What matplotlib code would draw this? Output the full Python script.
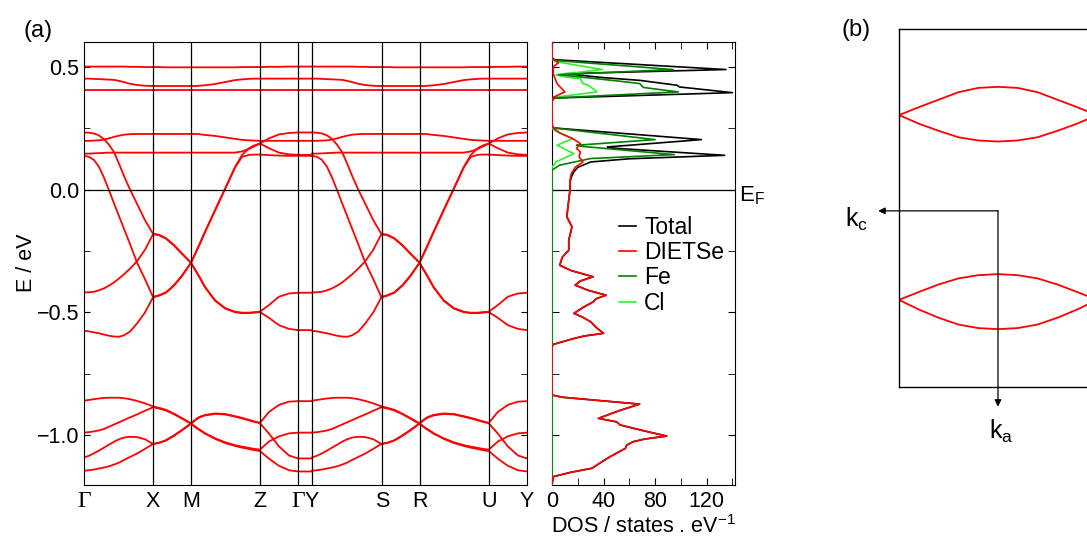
import matplotlib
matplotlib.use('Agg')
import matplotlib.pyplot as plt
from matplotlib.ticker import MultipleLocator

plt.rcParams['font.family'] = 'Liberation Sans'
plt.rcParams['font.size'] = 15.5
plt.rcParams['mathtext.fontset'] = 'custom'
plt.rcParams['mathtext.rm'] = 'Liberation Sans'
plt.rcParams['mathtext.it'] = 'Liberation Sans'

# high symmetry points along the k path
kpt_pos = [0, 69, 107, 176, 214, 228, 298, 336, 405, 443]
kpt_labels = ['Γ', 'X', 'M', 'Z', 'Γ', 'Y', 'S', 'R', 'U', 'Y']

# k grid for Γ-X-M-Z-Γ; the Y-S-R-U-Y half shows the same bands
k_half = [0, 5, 10, 15, 20, 25, 30, 35,
          40, 46, 53, 61, 69, 75, 82, 90,
          98, 107, 111, 115, 121, 131, 141, 151,
          158, 165, 170, 176, 185, 195, 205, 214]

band_u1 = [0.500, 0.500, 0.500, 0.500, 0.500, 0.500, 0.500, 0.500,
           0.500, 0.499, 0.499, 0.498, 0.498, 0.498, 0.497, 0.497,
           0.497, 0.497, 0.497, 0.497, 0.497, 0.497, 0.497, 0.497,
           0.498, 0.498, 0.498, 0.498, 0.499, 0.499, 0.500, 0.500]
band_u2 = [0.451, 0.451, 0.450, 0.449, 0.448, 0.447, 0.446, 0.442,
           0.437, 0.430, 0.425, 0.422, 0.421, 0.421, 0.421, 0.421,
           0.421, 0.421, 0.421, 0.422, 0.424, 0.429, 0.437, 0.445,
           0.448, 0.450, 0.451, 0.451, 0.451, 0.451, 0.451, 0.451]
band_u3 = [0.404] * 32
band_m1 = [0.198, 0.198, 0.199, 0.200, 0.203, 0.208, 0.214, 0.219,
           0.223, 0.225, 0.226, 0.226, 0.226, 0.226, 0.226, 0.226,
           0.226, 0.226, 0.226, 0.225, 0.222, 0.218, 0.212, 0.206,
           0.202, 0.200, 0.199, 0.198, 0.198, 0.198, 0.198, 0.198]
band_m2 = [0.146, 0.146, 0.147, 0.148, 0.149, 0.150, 0.150, 0.150,
           0.150, 0.150, 0.150, 0.150, 0.150, 0.150, 0.150, 0.150,
           0.150, 0.150, 0.150, 0.150, 0.150, 0.150, 0.150, 0.150,
           0.155, 0.165, 0.175, 0.187, 0.168, 0.150, 0.143, 0.141]
band_p = [0.232, 0.231, 0.228, 0.220, 0.205, 0.182, 0.152, 0.105,
          0.055, 0.000, -0.058, -0.125, -0.180, -0.184, -0.198, -0.226,
          -0.260, -0.298, -0.325, -0.352, -0.396, -0.450, -0.482, -0.497,
          -0.501, -0.501, -0.499, -0.497, -0.470, -0.436, -0.423, -0.420]
band_r = [-0.419, -0.418, -0.416, -0.410, -0.402, -0.391, -0.378, -0.362,
          -0.345, -0.322, -0.292, -0.245, -0.182, -0.186, -0.200, -0.228,
          -0.262, -0.298, -0.327, -0.354, -0.398, -0.452, -0.484, -0.499,
          -0.503, -0.503, -0.501, -0.499, -0.522, -0.552, -0.567, -0.572]
band_q = [0.137, 0.133, 0.120, 0.092, 0.048, -0.003, -0.056, -0.108,
          -0.160, -0.222, -0.297, -0.365, -0.437, -0.430, -0.418, -0.389,
          -0.350, -0.298, -0.262, -0.227, -0.172, -0.084, 0.003, 0.091,
          0.140, 0.168, 0.179, 0.187, 0.208, 0.224, 0.230, 0.232]
band_s = [-0.575, -0.577, -0.581, -0.585, -0.590, -0.595, -0.598, -0.599,
          -0.593, -0.578, -0.545, -0.500, -0.439, -0.432, -0.420, -0.391,
          -0.352, -0.298, -0.264, -0.229, -0.174, -0.086, 0.001, 0.089,
          0.133, 0.141, 0.142, 0.142, 0.140, 0.138, 0.137, 0.137]
band_w1 = [-0.859, -0.856, -0.853, -0.850, -0.848, -0.847, -0.847, -0.847,
           -0.849, -0.853, -0.860, -0.870, -0.882, -0.888, -0.896, -0.912,
           -0.930, -0.951, -0.964, -0.975, -0.991, -1.012, -1.028, -1.040,
           -1.046, -1.051, -1.055, -1.058, -1.025, -1.004, -0.992, -0.989]
band_w2 = [-0.989, -0.987, -0.984, -0.980, -0.974, -0.965, -0.956, -0.947,
           -0.938, -0.927, -0.915, -0.900, -0.886, -0.891, -0.899, -0.914,
           -0.932, -0.953, -0.966, -0.977, -0.993, -1.014, -1.031, -1.043,
           -1.050, -1.056, -1.060, -1.064, -1.095, -1.124, -1.142, -1.147]
band_w3 = [-1.090, -1.083, -1.073, -1.062, -1.050, -1.038, -1.026, -1.016,
           -1.009, -1.006, -1.007, -1.016, -1.035, -1.030, -1.020, -1.000,
           -0.978, -0.951, -0.937, -0.926, -0.917, -0.911, -0.913, -0.922,
           -0.929, -0.937, -0.943, -0.949, -0.905, -0.876, -0.863, -0.861]
band_w4 = [-1.144, -1.142, -1.139, -1.135, -1.131, -1.126, -1.119, -1.111,
           -1.100, -1.088, -1.074, -1.055, -1.035, -1.031, -1.021, -1.002,
           -0.980, -0.953, -0.939, -0.928, -0.919, -0.913, -0.915, -0.924,
           -0.931, -0.939, -0.945, -0.951, -0.993, -1.045, -1.082, -1.094]

bands = [band_u1, band_u2, band_u3, band_m1, band_m2, band_p, band_r,
         band_q, band_s, band_w1, band_w2, band_w3, band_w4]

# DOS (states / eV) against energy (eV)
total_e = [0.60, 0.535, 0.528, 0.488, 0.471, 0.455, 0.444, 0.424, 0.417, 0.394,
           0.372, 0.36, 0.27, 0.255, 0.25, 0.203, 0.173, 0.169, 0.139, 0.125,
           0.112, 0.09, 0.072, 0.051, 0.03]
total_d = [0, 0, 2, 135, 10, 40, 68, 97, 99, 140,
           2, 0, 0, 0, 2, 116, 43, 45, 134, 60,
           30, 20, 17, 15, 14]
dietse_e = [0.60, 0.535, 0.515, 0.50, 0.47, 0.43, 0.397, 0.375, 0.36, 0.27,
            0.25, 0.23, 0.207, 0.187, 0.167, 0.153, 0.133, 0.112, 0.09, 0.065,
            0.04]
dietse_d = [0, 0, 5, 1, 1, 4, 10, 1, 0, 0,
            1, 6, 16, 22, 19, 22, 21, 24, 18, 15,
            14]
# below E_F the total equals the DIETSe part
occ_e = [0.0, -0.043, -0.111, -0.152, -0.206, -0.247, -0.275, -0.308, -0.33, -0.355,
         -0.372, -0.389, -0.41, -0.43, -0.445, -0.457, -0.48, -0.504, -0.52, -0.538,
         -0.56, -0.585, -0.596, -0.606, -0.63, -0.64, -0.836, -0.845, -0.86, -0.873,
         -0.90, -0.931, -0.945, -0.958, -0.98, -1.003, -1.015, -1.026, -1.04, -1.053,
         -1.087, -1.11, -1.134, -1.15, -1.168, -1.2]
occ_d = [14, 13, 11.5, 15.5, 13, 13, 8, 6, 15, 32,
         22, 18, 28, 42, 34, 32, 24, 17, 24, 30,
         34, 40, 25, 17, 1, 0, 0, 8, 40, 68,
         52, 36, 50, 53, 70, 89, 72, 63, 58, 57,
         45, 38, 31, 15, 1, 0]
fe_e = [0.60, 0.53, 0.525, 0.488, 0.467, 0.442, 0.431, 0.415, 0.397, 0.372,
        0.36, 0.27, 0.255, 0.25, 0.203, 0.18, 0.176, 0.142, 0.126, 0.099,
        0.079, -1.2]
fe_d = [0, 0, 2, 94, 5, 50, 68, 71, 98, 1,
        0, 0, 0, 2, 80, 19, 22, 95, 30, 6,
        0, 0]
cl_e = [0.60, 0.53, 0.52, 0.488, 0.466, 0.458, 0.451, 0.431, 0.425, 0.397,
        0.375, 0.365, 0.27, 0.25, 0.24, 0.207, 0.18, 0.146, 0.112, 0.09,
        -1.2]
cl_d = [0, 0, 3, 39, 3, 10, 22, 24, 28, 35,
        2, 0, 0, 0, 2, 16, 4, 17, 3, 0,
        0]

# Fermi surface (panel b), k_c along x, k_a along y
fs_k = [-0.5, -0.4, -0.3, -0.2, -0.1, 0.0, 0.1, 0.2, 0.3, 0.4, 0.5]
fs_up_top = [0.260, 0.282, 0.303, 0.324, 0.336, 0.339, 0.336, 0.324, 0.303, 0.282, 0.260]
fs_up_bot = [0.260, 0.236, 0.216, 0.198, 0.189, 0.186, 0.189, 0.198, 0.216, 0.236, 0.260]
fs_lo_top = [-0.257, -0.235, -0.214, -0.197, -0.188, -0.185, -0.188, -0.197, -0.214, -0.235, -0.257]
fs_lo_bot = [-0.257, -0.284, -0.307, -0.326, -0.336, -0.339, -0.336, -0.326, -0.307, -0.284, -0.257]

W, H = 1087, 536
fig = plt.figure(figsize=(W / 100, H / 100), dpi=100)

bot = 1 - 484.5 / H
hgt = 442.5 / H
ax = fig.add_axes([84 / W, bot, 443 / W, hgt])
axd = fig.add_axes([552 / W, bot, 183 / W, hgt])
axb = fig.add_axes([899 / W, 1 - 386.7 / H, 198 / W, 357.4 / H])

# ---- band structure
scale2 = (kpt_pos[-1] - kpt_pos[5]) / kpt_pos[4]
for e in bands:
    ax.plot(k_half + [kpt_pos[5]], e + [e[-1]], color='red', lw=1.3)
    ax.plot([kpt_pos[5] + k * scale2 for k in k_half], e, color='red', lw=1.3)
for p in kpt_pos[1:-1]:
    ax.axvline(p, color='black', lw=0.9)
ax.axhline(0, color='black', lw=0.9)
ax.set_xlim(0, kpt_pos[-1])
ax.set_ylim(-1.2, 0.6)
ax.set_xticks(kpt_pos)
ax.set_xticklabels(kpt_labels)
for t in ax.get_xticklabels():
    if t.get_text() == 'Γ':
        t.set_fontfamily('Liberation Serif')
        t.set_fontsize(17)
ax.tick_params(axis='x', length=0, pad=5)
ax.set_yticks([-1.0, -0.5, 0.0, 0.5])
ax.set_yticklabels(['\u22121.0', '\u22120.5', '0.0', '0.5'])
ax.yaxis.set_minor_locator(MultipleLocator(0.25))
ax.tick_params(axis='y', which='both', direction='in', left=True, right=True, length=4)
ax.set_ylabel('E / eV', labelpad=0)

# ---- DOS
axd.plot(total_d + occ_d, total_e + occ_e, color='black', lw=1.2, label='Total')
axd.plot(dietse_d + occ_d, dietse_e + occ_e, color='red', lw=1.2, label='DIETSe', zorder=4)
axd.plot(fe_d, fe_e, color='#008000', lw=1.2, label='Fe', zorder=3.5)
axd.plot(cl_d, cl_e, color='#33ee33', lw=1.2, label='Cl', zorder=3)
axd.axhline(0, color='black', lw=0.9)
axd.set_xlim(0, 142)
axd.set_ylim(-1.2, 0.6)
axd.set_xticks([0, 40, 80, 120])
axd.xaxis.set_minor_locator(MultipleLocator(20))
axd.set_yticks([-1.0, -0.5, 0.0, 0.5])
axd.yaxis.set_minor_locator(MultipleLocator(0.25))
axd.tick_params(which='both', direction='in', top=True, bottom=True, left=True, right=True,
                labelleft=False, length=5)
axd.tick_params(axis='x', pad=5)
axd.set_xlabel('DOS / states . eV$^{-1}$', labelpad=2)
axd.legend(loc='upper left', bbox_to_anchor=(0.366, 0.607), frameon=False,
           fontsize=16.5, handlelength=0.75, handletextpad=0.35, labelspacing=0.1,
           borderaxespad=0, borderpad=0)
fig.text(739 / W, 1 - 196 / H, 'E$_\\mathrm{F}$', ha='left', va='center', fontsize=16)

# ---- Fermi surface
for top, low in [(fs_up_top, fs_up_bot), (fs_lo_top, fs_lo_bot)]:
    axb.plot(fs_k, top, color='red', lw=1.3)
    axb.plot(fs_k, low, color='red', lw=1.3)
axb.set_xlim(-0.5, 0.5)
axb.set_ylim(-0.5, 0.5)
axb.set_xticks([])
axb.set_yticks([])
for s in axb.spines.values():
    s.set_linewidth(1.0)
arr = dict(arrowstyle='-|>', color='black', lw=0.9, shrinkA=0, shrinkB=0, mutation_scale=10)
axb.annotate('', xy=(-0.605, -0.008), xytext=(0, -0.008), arrowprops=arr, annotation_clip=False)
axb.annotate('', xy=(0, -0.556), xytext=(0, -0.008), arrowprops=arr, annotation_clip=False)
fig.text(857 / W, 1 - 219 / H, 'k$_\\mathrm{c}$', ha='center', va='center', fontsize=18)
fig.text(1001 / W, 1 - 431 / H, 'k$_\\mathrm{a}$', ha='center', va='center', fontsize=18)

fig.text(38 / W, 1 - 31 / H, '(a)', ha='center', va='center', fontsize=17)
fig.text(856 / W, 1 - 30 / H, '(b)', ha='center', va='center', fontsize=17)

fig.savefig('out.png', dpi=100)
